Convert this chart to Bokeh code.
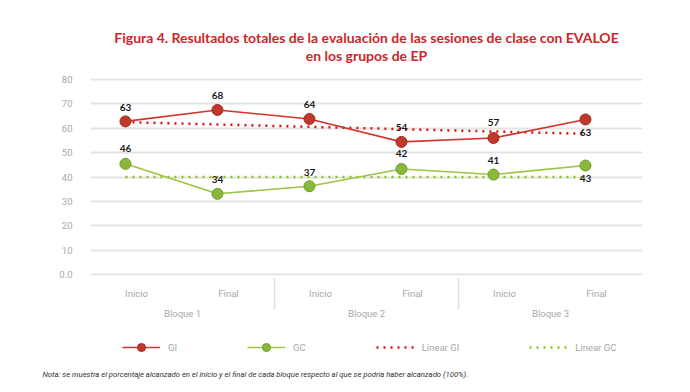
from bokeh.plotting import figure
from bokeh.layouts import column
from bokeh.models import (ColumnDataSource, FactorRange, Range1d, SingleIntervalTicker,
                          Legend, LegendItem, Title)
from bokeh.transform import dodge
from bokeh.core.properties import value
from bokeh.embed import file_html
from bokeh.resources import INLINE

# ---- data ----
blocks = ["Bloque 1", "Bloque 2", "Bloque 3"]
phases = ["Inicio", "Final"]
gi_values = [62.8, 67.5, 63.8, 54.4, 56.0, 63.6]
gi_labels = ["63", "68", "64", "54", "57", "63"]
gc_values = [45.4, 33.1, 36.2, 43.3, 41.0, 44.7]
gc_labels = ["46", "34", "37", "42", "41", "43"]
trend_gi = [62.5, 57.7]   # linear trend GI at first and last session
trend_gc = [40.0, 40.0]   # linear trend GC at first and last session
series_names = ["GI", "GC", "Linear GI", "Linear GC"]
y_tick_interval = 10
y_max = 80

title_text = ("Figura 4. Resultados totales de la evaluación de las sesiones de clase con EVALOE\n"
              "en los grupos de EP")
note = ("Nota: se muestra el porcentaje alcanzado en el inicio y el final de cada bloque "
        "respecto al que se podría haber alcanzado (100%).")

# ---- styling ----
RED_LINE = "#d3342c"
RED_FILL = "#c0392b"
RED_EDGE = "#9e2a1f"
RED_DOT = "#e01010"
GREEN_LINE = "#9cc540"
GREEN_FILL = "#8ab83a"
GREEN_EDGE = "#6f9a28"
GREEN_DOT = "#8cc21e"
GRAY_TXT = "#a8a8a8"
GRID = "#e4e4e4"
TITLE_RED = "#d2232a"
AX_FONT = "Roboto"
gi_label_offsets = [-14, -14, -14, -14, -15, 13]
gc_label_offsets = [-15, -14, -14, -15, -14, 13]
DOTS = "2 5"

factors = [(b, ph) for b in blocks for ph in phases]

src = ColumnDataSource(dict(x=factors, gi=gi_values, gc=gc_values,
                            gi_lab=gi_labels, gc_lab=gc_labels,
                            gi_off=gi_label_offsets, gc_off=gc_label_offsets))
trend_src = ColumnDataSource(dict(x=[factors[0], factors[-1]], gi=trend_gi, gc=trend_gc))

x_range = FactorRange(*factors, factor_padding=0, group_padding=0, range_padding=0)
y_range = Range1d(-0.4, y_max + 0.4)
p = figure(width=690, height=335, x_range=x_range, y_range=y_range,
           output_backend="svg", toolbar_location=None, title=None,
           min_border_left=90, min_border_right=48, min_border_top=78, min_border_bottom=60)
p.outline_line_color = None
p.background_fill_color = "white"
p.border_fill_color = "white"

# title (two lines)
ttl = Title(text=title_text, align="center", text_align="center", text_color=TITLE_RED,
            text_line_height=1.1, text_font="Lato", text_font_size="14px",
            text_font_style="bold", standoff=28)
p.add_layout(ttl, "above")

# axes
p.xgrid.grid_line_color = None
p.ygrid.grid_line_color = GRID
p.ygrid.grid_line_width = 2
p.yaxis.ticker = SingleIntervalTicker(interval=y_tick_interval)
p.yaxis.major_label_overrides = {0: "0.0"}
p.yaxis.axis_line_color = None
p.yaxis.major_tick_line_color = None
p.yaxis.minor_tick_line_color = None
p.yaxis.major_label_text_color = GRAY_TXT
p.yaxis.major_label_text_font = AX_FONT
p.yaxis.major_label_text_font_size = "9.5px"
p.yaxis.major_label_standoff = 12

xa = p.xaxis[0]
xa.axis_line_color = None
xa.major_tick_line_color = None
xa.major_label_text_color = GRAY_TXT
xa.major_label_text_font = AX_FONT
xa.major_label_text_font_size = "9.5px"
xa.major_label_standoff = 6
xa.group_text_color = GRAY_TXT
xa.group_text_font = AX_FONT
xa.group_text_font_size = "9.5px"
xa.group_text_font_style = "normal"
xa.separator_line_color = "#dcdcdc"
xa.separator_line_width = 1.5

xd = dodge("x", -0.12, range=p.x_range)

# trend lines
p.line(x=xd, y="gi", source=trend_src, line_color=RED_DOT, line_width=2.5, line_dash=DOTS)
p.line(x=xd, y="gc", source=trend_src, line_color=GREEN_DOT, line_width=2.5, line_dash=DOTS)

# series
p.line(x=xd, y="gi", source=src, line_color=RED_LINE, line_width=1.6)
p.scatter(x=xd, y="gi", source=src, size=11, fill_color=RED_FILL, line_color=RED_EDGE)
p.line(x=xd, y="gc", source=src, line_color=GREEN_LINE, line_width=1.6)
p.scatter(x=xd, y="gc", source=src, size=11, fill_color=GREEN_FILL, line_color=GREEN_EDGE)

# data labels
for col, ycol, off in (("gi_lab", "gi", "gi_off"), ("gc_lab", "gc", "gc_off")):
    p.text(x=xd, y=ycol, text=col, y_offset=off, source=src, text_align="center",
           text_baseline="middle", text_font=value("Lato"), text_font_size="10px",
           text_font_style="bold", text_color="#1a1a1a")

# ---- legend strip + note (second canvas under the chart, frames aligned) ----
q = figure(width=690, height=57, x_range=x_range, y_range=y_range,
           output_backend="svg", toolbar_location=None,
           min_border_left=0, min_border_right=0, min_border_top=0, min_border_bottom=27)
q.axis.visible = False
q.grid.grid_line_color = None
q.outline_line_color = None
# legend keys: hidden copies of the series (only their legend glyphs are shown)
k_gi_l = q.line(x=xd, y="gi", source=src, line_color=RED_LINE, line_width=1.6, visible=False)
k_gi_c = q.scatter(x=xd, y="gi", source=src, size=11, fill_color=RED_FILL,
                   line_color=RED_EDGE, visible=False)
k_gc_l = q.line(x=xd, y="gc", source=src, line_color=GREEN_LINE, line_width=1.6, visible=False)
k_gc_c = q.scatter(x=xd, y="gc", source=src, size=11, fill_color=GREEN_FILL,
                   line_color=GREEN_EDGE, visible=False)
k_tgi = q.line(x=xd, y="gi", source=trend_src, line_color=RED_DOT, line_width=2.5,
               line_dash=DOTS, visible=False)
k_tgc = q.line(x=xd, y="gc", source=trend_src, line_color=GREEN_DOT, line_width=2.5,
               line_dash=DOTS, visible=False)

legend = Legend(items=[LegendItem(label=series_names[0], renderers=[k_gi_l, k_gi_c]),
                       LegendItem(label=series_names[1], renderers=[k_gc_l, k_gc_c]),
                       LegendItem(label=series_names[2], renderers=[k_tgi]),
                       LegendItem(label=series_names[3], renderers=[k_tgc])],
                orientation="horizontal", location=(32, 8), padding=0, margin=0,
                spacing=70, glyph_width=38, glyph_height=20, label_standoff=8,
                label_width=1, inactive_fill_alpha=0,
                label_text_color=GRAY_TXT, label_text_font=AX_FONT,
                label_text_font_size="9.5px", border_line_color=None,
                background_fill_alpha=0)
q.add_layout(legend, "center")

note_t = Title(text=note, align="left", offset=-48, text_color="#333333",
               text_font="Roboto", text_font_size="7.7px",
               text_font_style="italic", standoff=4)
q.add_layout(note_t, "below")

open("out.html", "w").write(file_html(column(p, q), INLINE))
